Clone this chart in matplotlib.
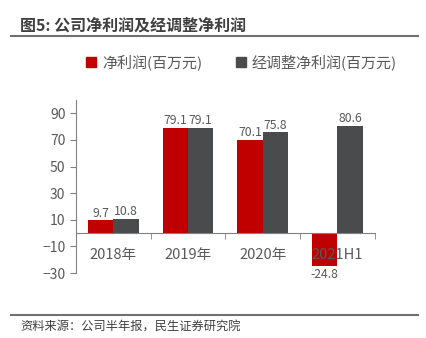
import numpy as np
import matplotlib.pyplot as plt
from matplotlib.lines import Line2D

plt.rcParams['font.family'] = ['Noto Sans CJK SC', 'DejaVu Sans']

categories = ['2018年', '2019年', '2020年', '2021H1']
net_profit = [9.7, 79.1, 70.1, -24.8]
adj_profit = [10.8, 79.1, 75.8, 80.6]
series_names = ['净利润(百万元)', '经调整净利润(百万元)']
yticks = [-30, -10, 10, 30, 50, 70, 90]

red = '#C00000'
gray = '#4A4B4D'
txt = '#595959'

fig = plt.figure(figsize=(4.26, 3.38), dpi=100)
ax = fig.add_axes([0.178, 0.192, 0.702, 0.512])

x = np.arange(len(categories))
w = 0.34
b1 = ax.bar(x - w / 2, net_profit, w, color=red, label=series_names[0])
b2 = ax.bar(x + w / 2, adj_profit, w, color=gray, label=series_names[1])

for bars, vals in ((b1, net_profit), (b2, adj_profit)):
    for bar, v in zip(bars, vals):
        cx = bar.get_x() + bar.get_width() / 2
        if v >= 0:
            ax.annotate(f'{v:.1f}', (cx, v), xytext=(0, 0.5), textcoords='offset points',
                        ha='center', va='bottom', fontsize=8.8, color=txt)
        else:
            ax.annotate(f'{v:.1f}', (cx, v), xytext=(0, -1), textcoords='offset points',
                        ha='center', va='top', fontsize=8.8, color=txt)

ax.set_xlim(-0.5, len(categories) - 0.5)
ax.set_ylim(-30, 100)
ax.set_yticks(yticks)
ax.set_xticks(x)
ax.set_xticklabels(categories)
ax.set_xticks(np.arange(len(categories) + 1) - 0.5, minor=True)

for s in ('top', 'right'):
    ax.spines[s].set_visible(False)
ax.spines['bottom'].set_position(('data', 0))
ax.spines['bottom'].set_color('#808080')
ax.spines['left'].set_color('#808080')

ax.tick_params(axis='x', which='major', length=0, pad=11, labelsize=10.5, labelcolor=txt)
ax.tick_params(axis='x', which='minor', length=4, color='#808080', direction='out')
ax.tick_params(axis='y', length=4, color='#808080', labelsize=10, labelcolor=txt)

handles = [Line2D([], [], marker='s', linestyle='', color=red, markersize=7),
           Line2D([], [], marker='s', linestyle='', color=gray, markersize=7)]
fig.legend(handles, series_names, loc='center', bbox_to_anchor=(0.566, 0.815), ncol=2,
           frameon=False, fontsize=10.8, handlelength=0.8, handletextpad=0.3,
           columnspacing=2.2, labelcolor=txt)

fig.text(0.047, 0.925, '图5: 公司净利润及经调整净利润', fontsize=11.5, fontweight='bold',
         color='#404040', va='center', ha='left')
fig.add_artist(Line2D([0.026, 0.981], [0.893, 0.893], color='#707070', lw=1.5))
fig.add_artist(Line2D([0.026, 0.981], [0.068, 0.068], color='#707070', lw=1.5))
fig.text(0.047, 0.033, '资料来源：公司半年报，民生证券研究院', fontsize=8.8, color='#404040',
         va='center', ha='left')

fig.savefig('out.png', dpi=100)
